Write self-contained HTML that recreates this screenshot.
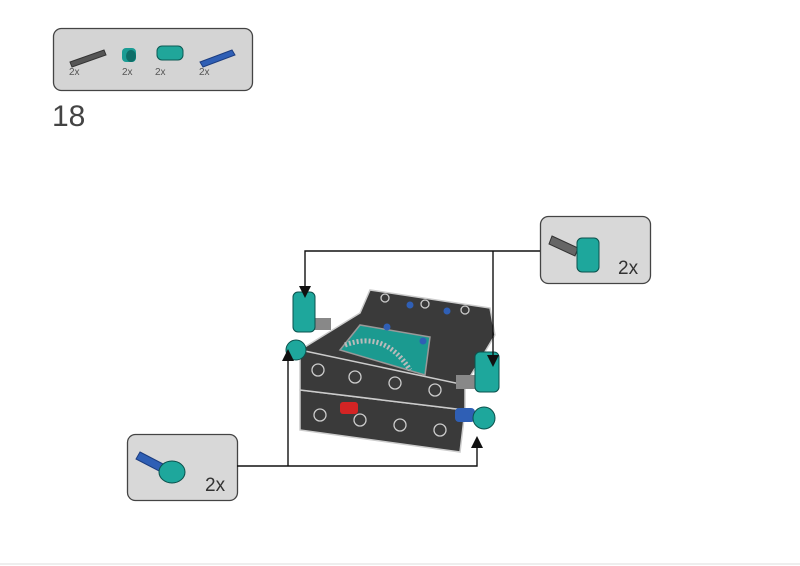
<!DOCTYPE html>
<html><head><style>
html,body{margin:0;padding:0;background:#fff;}
svg{display:block;font-family:"Liberation Sans",sans-serif;}
</style></head><body>
<svg width="800" height="566" viewBox="0 0 800 566" xmlns="http://www.w3.org/2000/svg">
<line x1="0" y1="564" x2="800" y2="564" stroke="#ddd" stroke-width="1"/>
<rect x="53.5" y="28.5" width="199" height="62" rx="8" fill="#d4d4d4" stroke="#444" stroke-width="1.3"/>
<g>
<path d="M70 62 L104 50 L106 55 L72 67 Z" fill="#555" stroke="#333"/>
<text x="69" y="75" font-size="10" fill="#555">2x</text>
<rect x="122" y="48" width="14" height="14" rx="4" fill="#1a9c94"/><ellipse cx="131" cy="56" rx="5" ry="6" fill="#0e6e68"/>
<text x="122" y="75" font-size="10" fill="#555">2x</text>
<rect x="157" y="46" width="26" height="14" rx="5" fill="#20a69a" stroke="#0c5a54"/>
<text x="155" y="75" font-size="10" fill="#555">2x</text>
<path d="M200 62 L232 50 L235 55 L203 67 Z" fill="#2f5fb5" stroke="#1c3d80"/>
<text x="199" y="75" font-size="10" fill="#555">2x</text>
</g>
<text x="52" y="126" font-size="30" fill="#444" font-weight="300">18</text>
<rect x="540.5" y="216.5" width="110" height="67" rx="8" fill="#d8d8d8" stroke="#444" stroke-width="1.3"/>
<path d="M552 236 L578 248 L575 256 L549 244 Z" fill="#666" stroke="#333"/>
<rect x="577" y="238" width="22" height="34" rx="5" fill="#1ea79c" stroke="#0b514c"/>
<text x="618" y="274" font-size="19" fill="#333">2x</text>
<rect x="127.5" y="434.5" width="110" height="66" rx="8" fill="#d8d8d8" stroke="#444" stroke-width="1.3"/>
<path d="M140 452 L165 465 L161 472 L136 459 Z" fill="#2f5fb5" stroke="#1c3d80"/>
<ellipse cx="172" cy="472" rx="13" ry="11" fill="#1ea79c" stroke="#0b514c"/>
<text x="205" y="491" font-size="19" fill="#333">2x</text>
<!-- model -->
<g stroke="#ccc" stroke-width="1.5">
<path d="M300 390 L300 430 L460 452 L465 410 Z" fill="#3a3a3a"/>
<path d="M300 350 L360 313 L370 290 L490 308 L495 335 L465 385 L465 410 L300 390 Z" fill="#3a3a3a"/>
<path d="M300 350 L465 385" fill="none"/>
<path d="M340 350 L360 325 L430 337 L425 375 Z" fill="#1b9a90" stroke="#999"/>
<path d="M345 345 Q385 330 410 370" fill="none" stroke="#bbb" stroke-width="5" stroke-dasharray="2 2"/>
</g>
<g fill="none" stroke="#ccc" stroke-width="1.3">
<circle cx="320" cy="415" r="6"/><circle cx="360" cy="420" r="6"/><circle cx="400" cy="425" r="6"/><circle cx="440" cy="430" r="6"/>
<circle cx="318" cy="370" r="6"/><circle cx="355" cy="377" r="6"/><circle cx="395" cy="383" r="6"/><circle cx="435" cy="390" r="6"/>
<circle cx="385" cy="298" r="4"/><circle cx="425" cy="304" r="4"/><circle cx="465" cy="310" r="4"/>
</g>
<circle cx="410" cy="305" r="3.5" fill="#2f5fb5"/><circle cx="447" cy="311" r="3.5" fill="#2f5fb5"/><circle cx="387" cy="327" r="3.5" fill="#2f5fb5"/><circle cx="423" cy="341" r="3.5" fill="#2f5fb5"/>
<rect x="340" y="402" width="18" height="12" rx="3" fill="#d42424"/>
<rect x="313" y="318" width="18" height="12" fill="#888"/>
<rect x="293" y="292" width="22" height="40" rx="5" fill="#1ea79c" stroke="#0b514c"/>
<ellipse cx="296" cy="350" rx="10" ry="10" fill="#1ea79c" stroke="#0b514c"/>
<rect x="456" y="375" width="20" height="14" fill="#888"/>
<rect x="475" y="352" width="24" height="40" rx="5" fill="#1ea79c" stroke="#0b514c"/>
<rect x="455" y="408" width="20" height="14" rx="4" fill="#2f5fb5"/>
<ellipse cx="484" cy="418" rx="11" ry="11" fill="#1ea79c" stroke="#0b514c"/>
<!-- connectors -->
<g stroke="#111" stroke-width="1.4" fill="none">
<polyline points="540,251 305,251 305,290"/>
<line x1="493" y1="251" x2="493" y2="358"/>
<polyline points="237,466 477,466 477,445"/>
<line x1="288" y1="466" x2="288" y2="358"/>
</g>
<g fill="#111">
<polygon points="299,286 311,286 305,298"/>
<polygon points="487,355 499,355 493,367"/>
<polygon points="282,361 294,361 288,349"/>
<polygon points="471,448 483,448 477,436"/>
</g>
</svg>
</body></html>
